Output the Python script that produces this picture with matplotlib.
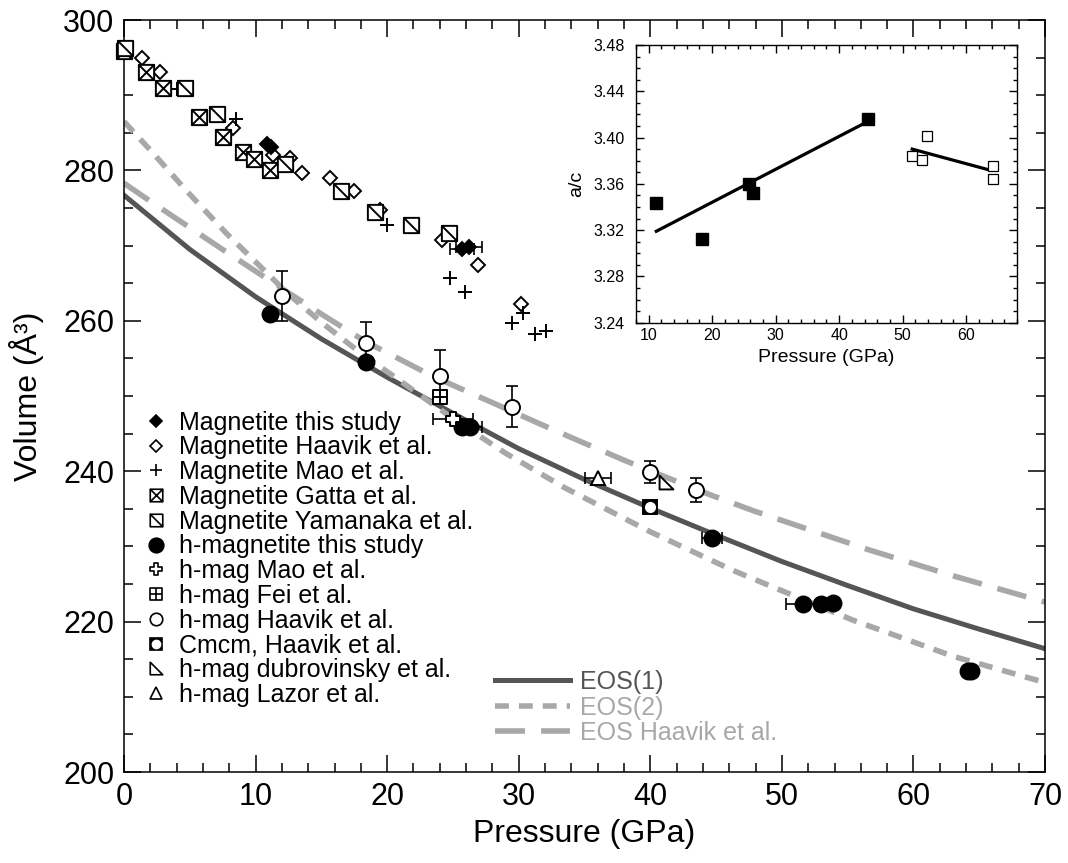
import numpy as np
import matplotlib
matplotlib.use('Agg')
import matplotlib.pyplot as plt
from matplotlib.path import Path
from matplotlib.lines import Line2D
from matplotlib.ticker import MultipleLocator

plt.rcParams['font.family'] = ['Liberation Sans', 'DejaVu Sans']

# ---- main plot data ----
mag_this_P = [10.9, 11.2, 25.7, 26.2]
mag_this_V = [283.5, 283.1, 269.6, 269.85]
mag_this_xerr = [0, 0, 0.9, 1.0]

mag_haavik_P = [1.4, 2.7, 8.3, 11.3, 12.6, 13.5, 15.65, 17.5, 19.45, 24.15, 26.9, 30.2]
mag_haavik_V = [294.9, 293.1, 285.6, 282.05, 281.6, 279.7, 279.0, 277.2, 274.7, 270.7, 267.4, 262.3]

mag_mao_P = [4.0, 8.5, 20.0, 24.8, 25.9, 29.5, 30.3, 31.2, 32.1]
mag_mao_V = [290.8, 286.8, 272.8, 265.65, 263.9, 259.7, 261.0, 258.3, 258.7]

mag_gatta_P = [0.0, 1.65, 3.0, 5.7, 7.55, 9.05, 9.85, 11.1]
mag_gatta_V = [295.9, 293.1, 291.0, 287.1, 284.5, 282.5, 281.5, 280.0]

mag_yama_P = [0.1, 4.65, 7.05, 12.2, 16.5, 19.1, 21.8, 24.7]
mag_yama_V = [296.3, 291.0, 287.5, 280.85, 277.3, 274.5, 272.8, 271.7]

hmag_this_P = [11.1, 18.4, 25.7, 26.3, 44.7, 51.6, 53.0, 53.9, 64.15, 64.35]
hmag_this_V = [260.9, 254.5, 245.9, 245.9, 231.15, 222.4, 222.3, 222.5, 213.4, 213.4]
hmag_this_xerr = [0, 0, 0, 0.9, 0.75, 1.3, 0, 0, 0, 0]

hmag_mao_P = [25.0]
hmag_mao_V = [246.9]
hmag_mao_xerr = [1.5]

hmag_fei_P = [24.0]
hmag_fei_V = [249.9]

hmag_haavik_P = [12.0, 18.4, 24.0, 29.5, 40.0, 43.5]
hmag_haavik_V = [263.3, 257.1, 252.6, 248.6, 239.9, 237.5]
hmag_haavik_yerr = [3.3, 2.7, 3.5, 2.7, 1.5, 1.55]

cmcm_P = [40.0]
cmcm_V = [235.2]

dubro_P = [41.2]
dubro_V = [238.6]

lazor_P = [36.0]
lazor_V = [239.05]
lazor_xerr = [1.0]

# EOS curves
eos1_P = [0, 5, 10, 15, 20, 25, 30, 35, 40, 45, 50, 55, 60, 65, 70]
eos1_V = [276.7, 269.5, 263.2, 257.6, 252.5, 247.7, 243.0, 238.9, 235.1, 231.5, 228.0, 224.8, 221.7, 219.0, 216.4]

eos2_P = [0, 2, 4.8, 7.8, 10.9, 12.4, 15, 18, 21, 25, 29, 33.5, 40, 46.3, 49.6, 55.4, 63, 70]
eos2_V = [286.5, 282.7, 277.2, 271.6, 266.3, 263.7, 259.8, 255.7, 252.0, 247.0, 242.4, 237.8, 231.95, 226.8, 224.4, 220.2, 215.4, 211.9]

eosh_P = [0, 2, 5, 8, 10, 12, 15, 18.4, 23.5, 28.8, 31.6, 34.9, 38.1, 41.5, 44.5, 47.9, 56.7, 63, 70]
eosh_V = [278.3, 275.9, 272.4, 268.9, 266.6, 264.3, 260.9, 257.2, 252.6, 248.5, 246.3, 243.8, 241.4, 239.0, 236.9, 234.7, 229.5, 226.1, 222.6]

# ---- inset data ----
ac_fill_P = [11.2, 18.45, 25.8, 26.4, 44.6]
ac_fill_R = [3.343, 3.312, 3.3596, 3.352, 3.4157]
ac_open_P = [51.5, 53.0, 53.8, 64.2, 64.2]
ac_open_R = [3.384, 3.381, 3.401, 3.3757, 3.364]
fit1_P = [11.2, 44.2]
fit1_R = [3.319, 3.413]
fit2_P = [51.5, 63.3]
fit2_R = [3.390, 3.3725]


def make_path(verts, codes):
    return Path(np.array(verts, float), codes)

M, L, C = Path.MOVETO, Path.LINETO, Path.CLOSEPOLY
sq = [(-1, -1), (1, -1), (1, 1), (-1, 1), (-1, -1)]
sq_c = [M, L, L, L, C]
box_x = make_path(sq + [(-1, -1), (1, 1), (-1, 1), (1, -1)], sq_c + [M, L, M, L])
box_slash = make_path(sq + [(-1, 1), (1, -1)], sq_c + [M, L])
box_plus = make_path(sq + [(0, -1), (0, 1), (-1, 0), (1, 0)], sq_c + [M, L, M, L])
w = 0.38
cross = make_path([(-w, -1), (w, -1), (w, -w), (1, -w), (1, w), (w, w), (w, 1), (-w, 1),
                   (-w, w), (-1, w), (-1, -w), (-w, -w), (-w, -1)], [M] + [L] * 11 + [C])
rtri = make_path([(-1, -1), (1, -1), (-1, 1), (-1, -1)], [M, L, L, C])

fig = plt.figure(figsize=(10.68, 8.63), dpi=100)
ax = fig.add_axes([0.1161, 0.1054, 0.8624, 0.8714])

dark = '#555555'
light = '#a8a8a8'
l1, = ax.plot(eos1_P, eos1_V, color=dark, lw=3.6, zorder=2, label='EOS(1)')
l2, = ax.plot(eos2_P, eos2_V, color=light, lw=4, dashes=(2.5, 1.8), zorder=2, label='EOS(2)')
l3, = ax.plot(eosh_P, eosh_V, color=light, lw=4, dashes=(5.4, 2.9), zorder=2, label='EOS Haavik et al.')

err_kw = dict(fmt='none', ecolor='black', elinewidth=1.2, capsize=4.5, capthick=1.2, zorder=3)


def with_err(P, V, e):
    P, V, e = np.array(P), np.array(V), np.array(e)
    m = e > 0
    return P[m], V[m], e[m]

p, v, e = with_err(mag_this_P, mag_this_V, mag_this_xerr)
ax.errorbar(p, v, xerr=e, **err_kw)
p, v, e = with_err(hmag_this_P, hmag_this_V, hmag_this_xerr)
ax.errorbar(p, v, xerr=e, **err_kw)
ax.errorbar(hmag_mao_P, hmag_mao_V, xerr=hmag_mao_xerr, **err_kw)
ax.errorbar(lazor_P, lazor_V, xerr=lazor_xerr, **err_kw)
ax.errorbar(hmag_haavik_P, hmag_haavik_V, yerr=hmag_haavik_yerr, **err_kw)

mk = dict(ls='none', mec='black', mew=1.4, clip_on=False, zorder=4)
ax.plot(mag_haavik_P, mag_haavik_V, marker='D', ms=7, mfc='white', **mk)
ax.plot(mag_mao_P, mag_mao_V, marker='+', ms=10, **mk)
ax.plot(mag_gatta_P, mag_gatta_V, marker=box_x, ms=11, mfc='white', **mk)
ax.plot(mag_yama_P, mag_yama_V, marker=box_slash, ms=11, mfc='white', **mk)
ax.plot(mag_this_P, mag_this_V, marker='D', ms=7, mfc='black', **mk)
ax.plot(hmag_this_P, hmag_this_V, marker='o', ms=11.5, mfc='black', **mk)
ax.plot(hmag_mao_P, hmag_mao_V, marker=cross, ms=10, mfc='white', **mk)
ax.plot(hmag_fei_P, hmag_fei_V, marker=box_plus, ms=10, mfc='white', **mk)
ax.plot(hmag_haavik_P, hmag_haavik_V, marker='o', ms=10.8, mfc='white', **mk)
ax.plot(cmcm_P, cmcm_V, marker='s', ms=10.5, mfc='black', **mk)
ax.plot(cmcm_P, cmcm_V, marker='o', ms=7, mfc='white', mec='white', ls='none', zorder=5)
ax.plot(dubro_P, dubro_V, marker=rtri, ms=10, mfc='white', **mk)
ax.plot(lazor_P, lazor_V, marker='^', ms=10, mfc='white', **mk)

ax.set_xlim(0, 70)
ax.set_ylim(200, 300)
ax.xaxis.set_major_locator(MultipleLocator(10))
ax.xaxis.set_minor_locator(MultipleLocator(2))
ax.yaxis.set_major_locator(MultipleLocator(20))
ax.yaxis.set_minor_locator(MultipleLocator(5))
ax.tick_params(which='both', direction='in', top=True, right=True, width=1.1, labelsize=22, colors='black')
ax.tick_params(which='major', length=12, pad=7)
ax.tick_params(which='minor', length=6.5)
for s in ax.spines.values():
    s.set_linewidth(1.1)
ax.set_xlabel('Pressure (GPa)', fontsize=23)
ax.set_ylabel('Volume (Å³)', fontsize=23)
ax.xaxis.set_label_coords(0.5, -0.062)
ax.yaxis.set_label_coords(-0.087, 0.5)

lk = dict(ls='none', mec='black', mew=1.2)
handles = [
    Line2D([], [], marker='D', ms=6.5, mfc='black', **lk),
    Line2D([], [], marker='D', ms=6.5, mfc='white', **lk),
    Line2D([], [], marker='+', ms=9, **lk),
    Line2D([], [], marker=box_x, ms=9, mfc='white', **lk),
    Line2D([], [], marker=box_slash, ms=9, mfc='white', **lk),
    Line2D([], [], marker='o', ms=10.5, mfc='black', **lk),
    Line2D([], [], marker=cross, ms=9, mfc='white', **lk),
    Line2D([], [], marker=box_plus, ms=8.5, mfc='white', **lk),
    Line2D([], [], marker='o', ms=9, mfc='white', **lk),
    (Line2D([], [], marker='s', ms=9, mfc='black', **lk),
     Line2D([], [], marker='o', ms=6, mfc='white', mec='white', ls='none')),
    Line2D([], [], marker=rtri, ms=9, mfc='white', **lk),
    Line2D([], [], marker='^', ms=9, mfc='white', **lk),
]
labels = ['Magnetite this study', 'Magnetite Haavik et al.', 'Magnetite Mao et al.',
          'Magnetite Gatta et al.', 'Magnetite Yamanaka et al.', 'h-magnetite this study',
          'h-mag Mao et al.', 'h-mag Fei et al.', 'h-mag Haavik et al.', 'Cmcm, Haavik et al.',
          'h-mag dubrovinsky et al.', 'h-mag Lazor et al.']
leg1 = ax.legend(handles, labels, loc='upper left', bbox_to_anchor=(0.0239, 0.4805),
                 frameon=False, fontsize=18, handlelength=0.8, handletextpad=0.5,
                 labelspacing=0.03, borderpad=0, borderaxespad=0)
ax.add_artist(leg1)
ax.legend([l1, l2, l3], ['EOS(1)', 'EOS(2)', 'EOS Haavik et al.'], loc='upper left',
          bbox_to_anchor=(0.4028, 0.1356), frameon=False, fontsize=18, handlelength=3.0,
          handletextpad=0.4, labelspacing=0.06, borderpad=0, borderaxespad=0,
          labelcolor='linecolor')

# ---- inset ----
ins = fig.add_axes([0.5955, 0.6261, 0.3567, 0.3218])
ins.plot(fit1_P, fit1_R, color='black', lw=2.3)
ins.plot(fit2_P, fit2_R, color='black', lw=2.3)
ins.plot(ac_fill_P, ac_fill_R, ls='none', marker='s', ms=8, mfc='black', mec='black')
ins.plot(ac_open_P, ac_open_R, ls='none', marker='s', ms=7, mfc='white', mec='black', mew=0.9)
ins.set_xlim(8, 68)
ins.set_ylim(3.24, 3.48)
ins.xaxis.set_major_locator(MultipleLocator(10))
ins.xaxis.set_minor_locator(MultipleLocator(2))
ins.yaxis.set_major_locator(MultipleLocator(0.04))
ins.yaxis.set_minor_locator(MultipleLocator(0.01))
ins.yaxis.set_major_formatter(matplotlib.ticker.FormatStrFormatter('%.2f'))
ins.tick_params(which='both', direction='in', top=True, right=True, width=1.0, labelsize=11.5)
ins.tick_params(which='major', length=5.5)
ins.tick_params(which='minor', length=3)
ins.tick_params(axis='y', pad=8)
ins.tick_params(axis='x', pad=4)
for s in ins.spines.values():
    s.set_linewidth(1.0)
ins.set_xlabel('Pressure (GPa)', fontsize=14, labelpad=4)
ins.set_ylabel('a/c', fontsize=14, labelpad=6)

fig.savefig('out.png', dpi=100)
